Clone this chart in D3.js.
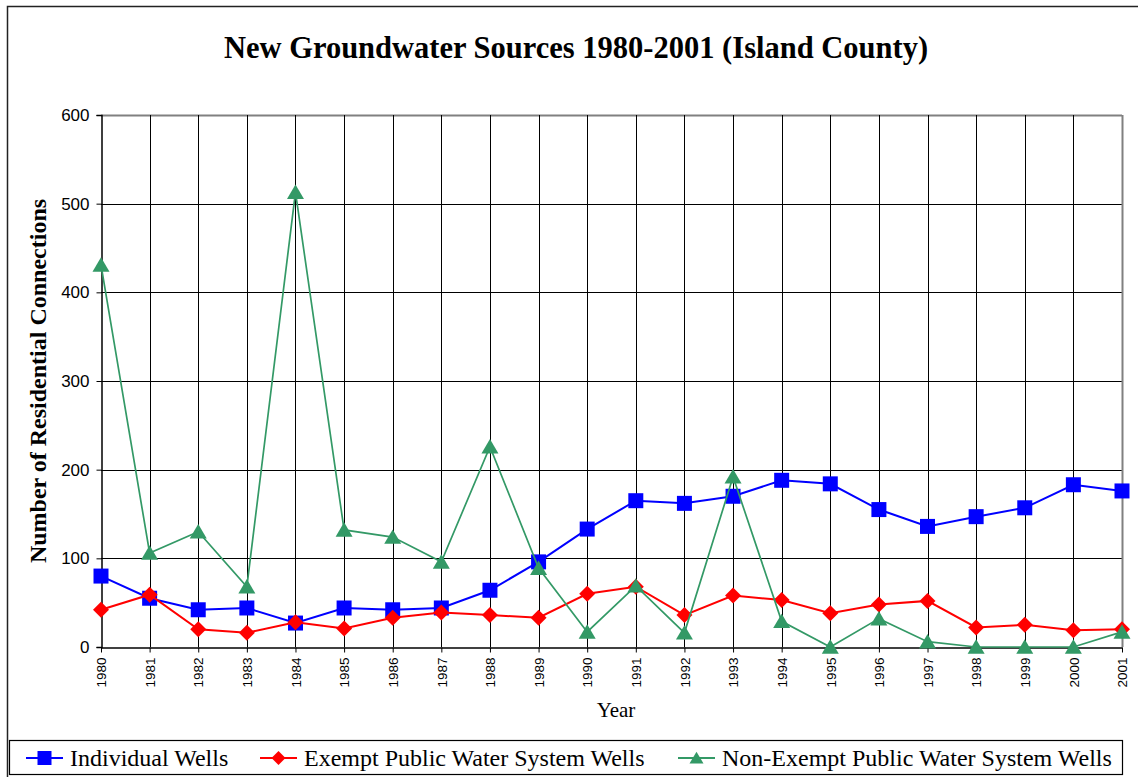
<!DOCTYPE html>
<html>
<head>
<meta charset="utf-8">
<script src="https://cdn.jsdelivr.net/npm/d3@7"></script>
<style>
  body { margin: 0; background: #fff; }
  svg { display: block; }
</style>
</head>
<body>
<script>
// data
const years = [1980, 1981, 1982, 1983, 1984, 1985, 1986, 1987, 1988, 1989, 1990,
               1991, 1992, 1993, 1994, 1995, 1996, 1997, 1998, 1999, 2000, 2001]
const individualWells = [80, 55, 42, 44, 27, 44, 42, 44, 64, 96, 133,
                         165, 162, 170, 188, 184, 155, 136, 147, 157, 183, 176]
const exemptWells = [42, 59, 20, 16, 28, 21, 33, 39, 36, 33, 60,
                     68, 36, 58, 53, 38, 48, 52, 22, 25, 19, 20]
const nonExemptWells = [431, 106, 130, 68, 513, 132, 124, 96, 226, 89, 17,
                        69, 16, 192, 29, 0, 32, 6, 0, 0, 0, 17]
const yTicks = [0, 100, 200, 300, 400, 500, 600]

const seriesNames = ["Individual Wells", "Exempt Public Water System Wells", "Non-Exempt Public Water System Wells"]

const W = 1138, H = 777
const serif = "'Liberation Serif', 'Times New Roman', serif"
const sans = "'Liberation Sans', Arial, sans-serif"

// marker shapes (size is used as a side length here)
const square = { draw(ctx, s) { ctx.rect(-s / 2, -s / 2, s, s) } }
const diamond = { draw(ctx, s) { ctx.moveTo(0, -s / 2); ctx.lineTo(s / 2, 0); ctx.lineTo(0, s / 2); ctx.lineTo(-s / 2, 0); ctx.closePath() } }
const triangle = { draw(ctx, s) { ctx.moveTo(0, -s * 0.45); ctx.lineTo(s * 0.5, s * 0.4); ctx.lineTo(-s * 0.5, s * 0.4); ctx.closePath() } }

const series = [
    { name: seriesNames[0], values: individualWells, color: "#0000FF", shape: square, size: 15, lw: 2 },
    { name: seriesNames[1], values: exemptWells, color: "#FF0000", shape: diamond, size: 16, lw: 2 },
    { name: seriesNames[2], values: nonExemptWells, color: "#339966", shape: triangle, size: 17, lw: 1.7 }
]

const svg = d3.select("body").append("svg")
    .attr("width", W)
    .attr("height", H)

svg.append("rect").attr("width", W).attr("height", H).attr("fill", "#fff")

// outer chart frame (right and bottom edges run off the page)
svg.append("rect")
    .attr("x", 7.5).attr("y", 6.5)
    .attr("width", W + 20).attr("height", H + 20)
    .attr("fill", "none").attr("stroke", "#222").attr("stroke-width", 1.5)

const plot = { left: 101, right: 1122, top: 115, bottom: 647 }

const x = d3.scalePoint().domain(years).range([plot.left, plot.right])
const y = d3.scaleLinear().domain([0, 600]).range([plot.bottom, plot.top])

// title
svg.append("text")
    .attr("x", 576).attr("y", 58)
    .attr("text-anchor", "middle")
    .style("font-family", serif).style("font-weight", "bold").style("font-size", "30.5px")
    .text("New Groundwater Sources 1980-2001 (Island County)")

// gridlines
const grid = svg.append("g")
grid.selectAll(".hgrid")
    .data(yTicks.filter(d => d > 0))
    .enter().append("line")
    .attr("x1", plot.left).attr("x2", plot.right)
    .attr("y1", d => Math.round(y(d)) + 0.5).attr("y2", d => Math.round(y(d)) + 0.5)
    .attr("stroke", d => d == 600 ? "#808080" : "#000")
    .attr("stroke-width", d => d == 600 ? 2 : 1)

grid.selectAll(".vgrid")
    .data(years.slice(1))
    .enter().append("line")
    .attr("x1", d => Math.round(x(d)) + 0.5).attr("x2", d => Math.round(x(d)) + 0.5)
    .attr("y1", plot.top).attr("y2", plot.bottom)
    .attr("stroke", d => d == 2001 ? "#808080" : "#000")
    .attr("stroke-width", d => d == 2001 ? 2 : 1)

// y axis
const yAxis = svg.append("g")
    .attr("transform", `translate(${plot.left + 0.5},0)`)
    .call(d3.axisLeft(y).tickValues(yTicks).tickSize(5).tickPadding(7))
yAxis.select(".domain").attr("stroke", "#000").attr("stroke-width", 1.5)
yAxis.selectAll("line").attr("stroke", "#000")
yAxis.selectAll("text").style("font-family", sans).style("font-size", "17px").attr("fill", "#000")

// x axis
const xAxis = svg.append("g")
    .attr("transform", `translate(0,${plot.bottom + 0.5})`)
    .call(d3.axisBottom(x).tickSize(5).tickSizeOuter(0))
xAxis.select(".domain").attr("stroke", "#000").attr("stroke-width", 1.5)
xAxis.selectAll("line").attr("stroke", "#000")
xAxis.selectAll("text")
    .style("font-family", sans).style("font-size", "13.5px").attr("fill", "#000")
    .attr("text-anchor", "end")
    .attr("transform", "rotate(-90)")
    .attr("x", -10).attr("y", 0).attr("dy", "0.35em")

// axis titles
svg.append("text")
    .attr("x", 616).attr("y", 717)
    .attr("text-anchor", "middle")
    .style("font-family", serif).style("font-size", "21px")
    .text("Year")

svg.append("text")
    .attr("transform", "translate(46,381) rotate(-90)")
    .attr("text-anchor", "middle")
    .style("font-family", serif).style("font-weight", "bold").style("font-size", "24px")
    .text("Number of Residential Connections")

// lines and markers
const line = d3.line().x((d, i) => x(years[i])).y(d => y(d))

series.forEach(s => {
    const g = svg.append("g")
    g.append("path")
        .attr("d", line(s.values))
        .attr("fill", "none")
        .attr("stroke", s.color)
        .attr("stroke-width", s.lw)
    g.selectAll("path.marker")
        .data(s.values)
        .enter().append("path")
        .attr("class", "marker")
        .attr("transform", (d, i) => `translate(${x(years[i])},${y(d)})`)
        .attr("d", d3.symbol().type(s.shape).size(s.size))
        .attr("fill", s.color)
})

// legend
const legend = svg.append("g")
legend.append("rect")
    .attr("x", 9.5).attr("y", 740.5)
    .attr("width", 1113).attr("height", 34)
    .attr("fill", "#fff").attr("stroke", "#000").attr("stroke-width", 1.2)

const legendX = [26, 260, 678]
series.forEach((s, i) => {
    const g = legend.append("g").attr("transform", `translate(${legendX[i]},758)`)
    g.append("line").attr("x1", 0).attr("x2", 37).attr("stroke", s.color).attr("stroke-width", 2)
    g.append("path")
        .attr("transform", "translate(18.5,0)")
        .attr("d", d3.symbol().type(s.shape).size(14))
        .attr("fill", s.color)
    g.append("text")
        .attr("x", 44).attr("y", 8)
        .style("font-family", serif).style("font-size", "24px")
        .text(s.name)
})
</script>
</body>
</html>
